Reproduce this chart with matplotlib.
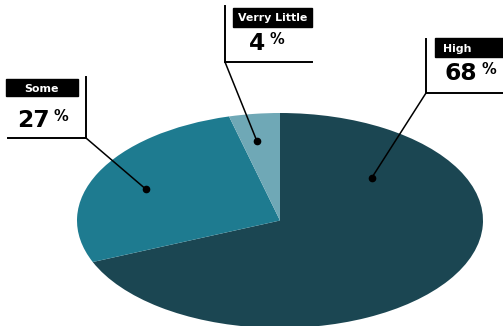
import matplotlib
matplotlib.use('Agg')
import matplotlib.pyplot as plt
from matplotlib.patches import Rectangle

labels = ['High', 'Some', 'Verry Little']
values = [68, 27, 4]
colors = ['#1b4652', '#1e7b90', '#6fa8b6']

W, H = 503, 326
fig = plt.figure(figsize=(W / 100, H / 100), dpi=100)

# pie axes stretched to an ellipse
cx, cy, rx, ry = 280, 220.5, 203, 107.5
ax = fig.add_axes([(cx - rx) / W, (H - cy - ry) / H, 2 * rx / W, 2 * ry / H])
ax.pie(values, colors=colors, startangle=90, counterclock=False,
       wedgeprops={'linewidth': 0})
ax.set_aspect('auto')
ax.set_xlim(-1, 1)
ax.set_ylim(-1, 1)
for p in ax.patches:
    p.set_clip_on(False)

# overlay in pixel coords for labels
ov = fig.add_axes([0, 0, 1, 1], zorder=5)
ov.set_xlim(0, W)
ov.set_ylim(H, 0)
ov.axis('off')

fam = 'DejaVu Sans'

# label layout: header box, header baseline, number pos, frame corner, dot in pie coords
layout = {
    'Some': dict(box=(6, 79, 72, 17), head=(42, 92), num=(17, 127), corner=(86, 138),
                 frame_end=8, frame_top=77, ha='center', dot=(-0.66, 0.29)),
    'Verry Little': dict(box=(233, 8, 79, 19), head=(273, 21), num=(249, 50), corner=(225, 62),
                         frame_end=312, frame_top=6, ha='center', dot=(-0.113, 0.735)),
    'High': dict(box=(435, 38, 70, 19), head=(443, 52), num=(445, 80), corner=(426, 93),
                 frame_end=503, frame_top=39, ha='left', dot=(0.453, 0.40)),
}

for lab, val in zip(labels, values):
    L = layout[lab]
    bx, by, bw, bh = L['box']
    ov.add_patch(Rectangle((bx, by), bw, bh, color='black', zorder=6))
    hx, hy = L['head']
    ov.text(hx, hy, lab, color='white', fontsize=7.9,
            fontweight='bold', family=fam, ha=L['ha'], va='baseline', zorder=7)
    nx, ny = L['num']
    t = ov.text(nx, ny, str(val), fontsize=16.8, fontweight='bold', family=fam,
                ha='left', va='baseline', color='black', zorder=7)
    fig.canvas.draw()
    bb = t.get_window_extent().transformed(ov.transData.inverted())
    ov.text(bb.x1 + 4, ny - 6, '%', fontsize=10.5, fontweight='bold', family=fam,
            ha='left', va='baseline', color='black', zorder=7)
    kx, ky = L['corner']
    ov.plot([L['frame_end'], kx, kx], [ky, ky, L['frame_top']],
            color='black', lw=1.4, solid_joinstyle='miter', zorder=6)
    # leader line to dot on the pie
    dxp, dyp = ax.transData.transform(L['dot'])
    dx, dy = ov.transData.inverted().transform((dxp, dyp))
    ov.plot([kx, dx], [ky, dy], color='black', lw=1.1, zorder=6)
    ov.plot([dx], [dy], 'o', color='black', markersize=4.5, zorder=7)

fig.savefig('out.png', dpi=100)
